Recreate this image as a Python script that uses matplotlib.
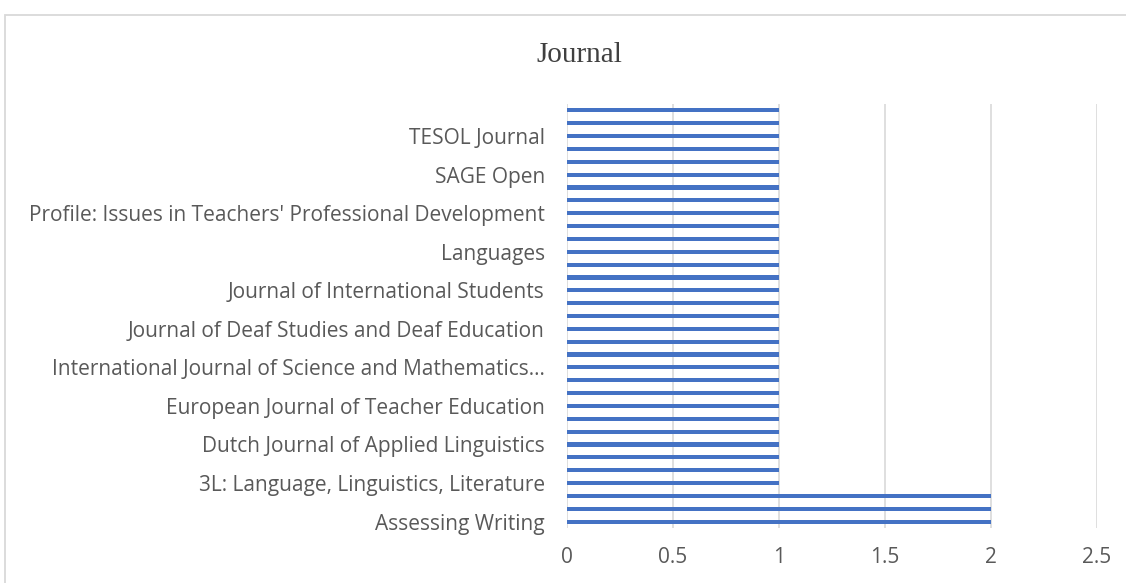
import matplotlib
matplotlib.use("Agg")
import matplotlib.pyplot as plt
from matplotlib.patches import Rectangle

# 33 journals (bottom to top); only every third label is visible in the reference
visible_labels = [
    "Assessing Writing",
    "3L: Language, Linguistics, Literature",
    "Dutch Journal of Applied Linguistics",
    "European Journal of Teacher Education",
    "International Journal of Science and Mathematics…",
    "Journal of Deaf Studies and Deaf Education",
    "Journal of International Students",
    "Languages",
    "Profile: Issues in Teachers' Professional Development",
    "SAGE Open",
    "TESOL Journal",
]
categories = []
for lab in visible_labels:
    categories += [lab, "", ""]
values = [2, 2, 2] + [1] * 30
x_ticks = [0, 0.5, 1, 1.5, 2, 2.5]
x_tick_labels = ["0", "0.5", "1", "1.5", "2", "2.5"]
title = "Journal"

W, H, DPI = 1126, 583, 100
fig = plt.figure(figsize=(W / DPI, H / DPI), dpi=DPI)
fig.patches.append(Rectangle((4.5 / W, -0.2), 1.2, 1.2 - 14.5 / H, transform=fig.transFigure,
                             fill=False, edgecolor="#d9d9d9", linewidth=1.3))

ax = fig.add_axes([567 / W, 1 - 528 / H, (1097 - 567) / W, (528 - 104) / H])
pos = list(range(len(values)))
ax.barh(pos, values, height=0.32, color="#4472C4", zorder=3)
ax.set_ylim(-0.5, len(values) - 0.5)
ax.set_xlim(0, 2.5)
ax.set_xticks(x_ticks)
ax.set_xticklabels(x_tick_labels)
ax.set_yticks(pos[::3])
ax.set_yticklabels([categories[i] for i in pos[::3]])
ax.grid(axis="x", color="#d9d9d9", linewidth=1.2, zorder=0)
for s in ax.spines.values():
    s.set_visible(False)
ax.tick_params(axis="both", length=0, colors="#595959", labelsize=15)
ax.tick_params(axis="x", pad=14)
ax.tick_params(axis="y", pad=16)
for t in ax.get_xticklabels() + ax.get_yticklabels():
    t.set_fontfamily("Open Sans")
    t.set_color("#595959")

fig.text(579 / W, 1 - 55 / H, title, ha="center", va="center",
         fontsize=21, fontfamily="Liberation Serif", color="#404040")

fig.savefig("out.png", dpi=DPI)
